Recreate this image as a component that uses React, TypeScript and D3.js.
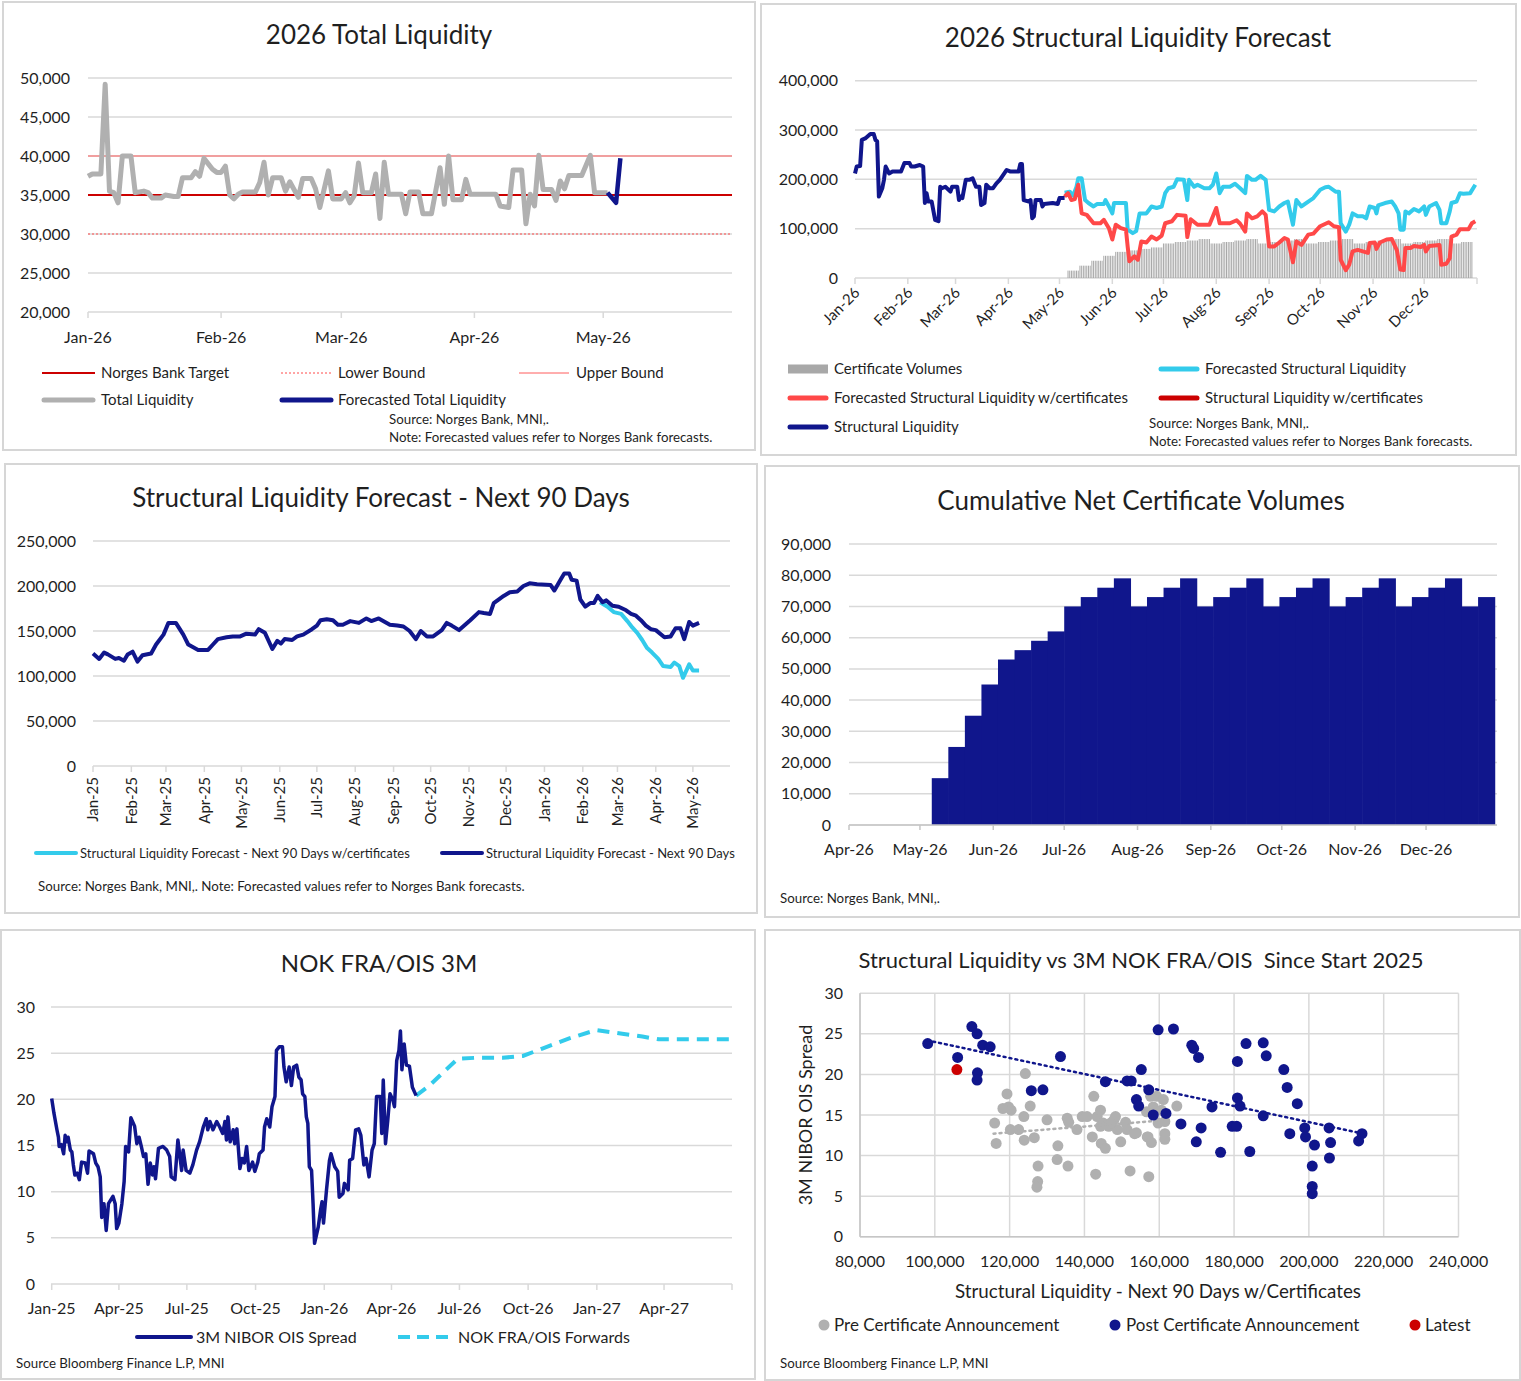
import React from 'react';
import * as d3 from 'd3';

type P = [number, number];

const FONT = 'Lato, "Open Sans", "DejaVu Sans", sans-serif';
const NAVY = '#10168c';
const GRAY = '#b0b0b0';
const BARGRAY = '#a8a8a8';
const CYAN = '#33cbeb';
const LRED = '#ff4848';
const DRED = '#cc0000';
const GRID = '#d9d9d9';
const AXIS = '#c6c6c6';
const TXT = '#1f1f1f';

const JAN25 = new Date(2025, 0, 1);
const JAN26 = new Date(2026, 0, 1);

// ---------- 2026 Total Liquidity (day offsets from 1 Jan 2026, NOK m)
const totalLiquidity: P[] = [
  [0, 37400], [1, 37700], [3, 37700], [4, 49200], [5, 35500], [6, 35300], [7, 34000], [8, 40000], [10, 40000], [11, 35300],
  [13, 35500], [14, 35300], [15, 34600], [17, 34600], [18, 35000], [20, 34800], [21, 34800], [22, 37200], [24, 37200], [25, 38000],
  [26, 37400], [27, 39700], [29, 38300], [30, 37900], [31, 37900], [32, 38700], [33, 35000], [34, 34500], [35, 35100], [36, 35400],
  [39, 35400], [40, 36600], [41, 39200], [42, 35000], [43, 37200], [45, 37200], [46, 35500], [47, 36700], [49, 34700], [50, 37100],
  [52, 37100], [53, 35800], [54, 33400], [56, 38100], [57, 34500], [59, 34500], [60, 35300], [61, 34000], [62, 34900], [63, 39100],
  [64, 35300], [66, 35300], [67, 37700], [68, 32000], [69, 39200], [70, 35100], [73, 35100], [74, 32600], [75, 35400], [77, 35400],
  [78, 32600], [80, 32600], [82, 38500], [83, 33800], [84, 40000], [85, 34400], [87, 34400], [88, 37000], [89, 35100], [95, 35100],
  [96, 33600], [98, 33400], [99, 38200], [101, 38200], [102, 31300], [103, 35100], [104, 33600], [105, 40100], [106, 35700], [108, 35700],
  [109, 34300], [110, 36800], [111, 35800], [112, 37500], [115, 37500], [117, 40100], [118, 35300], [121, 35300],
];
const forecastTotalLiquidity: P[] = [[121, 35300], [123, 34000], [124, 39700]];
const nbTarget = 35000;
const lowerBound = 30000;
const upperBound = 40000;
const tlTicks = [20000, 25000, 30000, 35000, 40000, 45000, 50000];

// ---------- 2026 Structural Liquidity Forecast (day offsets from 1 Jan 2026)
const structuralLiquidity: P[] = [
  [0, 212000], [1, 226000], [3, 227000], [4, 280000], [6, 283000], [9, 292000], [11, 292000], [12, 280000], [13, 277000], [14, 165000],
  [16, 182000], [17, 199000], [18, 226000], [20, 212000], [22, 216000], [27, 216000], [29, 233000], [32, 233000], [33, 226000], [35, 226000],
  [38, 229000], [40, 226000], [41, 152000], [42, 172000], [43, 155000], [45, 155000], [47, 118000], [49, 115000], [50, 185000], [51, 182000],
  [53, 185000], [56, 175000], [57, 185000], [60, 185000], [61, 158000], [62, 165000], [63, 162000], [65, 199000], [67, 199000], [69, 202000],
  [71, 185000], [73, 185000], [74, 148000], [76, 152000], [77, 189000], [79, 182000], [81, 182000], [83, 192000], [85, 199000], [89, 219000],
  [91, 216000], [96, 216000], [97, 231000], [98, 231000], [99, 158000], [102, 155000], [103, 158000], [104, 121000], [105, 125000], [106, 158000],
  [109, 158000], [110, 145000], [111, 150000], [116, 152000], [119, 150000], [120, 162000], [123, 162000],
];
const forecastStructural: P[] = [
  [123, 173000], [126, 175000], [128, 167000], [130, 185000], [131, 202000], [133, 202000], [135, 158000], [137, 152000], [140, 145000], [142, 150000],
  [146, 150000], [147, 158000], [149, 145000], [151, 131000], [152, 152000], [157, 152000], [159, 152000], [160, 98000], [163, 91000], [165, 95000],
  [167, 131000], [171, 131000], [174, 145000], [177, 142000], [180, 145000], [182, 172000], [184, 182000], [187, 185000], [189, 200000], [193, 199000],
  [195, 158000], [196, 199000], [199, 185000], [201, 189000], [205, 182000], [208, 182000], [210, 189000], [212, 212000], [214, 172000], [216, 185000],
  [220, 185000], [223, 191000], [226, 182000], [229, 172000], [230, 207000], [233, 199000], [235, 199000], [238, 207000], [241, 199000], [243, 138000],
  [246, 135000], [249, 145000], [252, 152000], [254, 155000], [257, 108000], [259, 158000], [262, 145000], [266, 155000], [269, 162000], [273, 179000],
  [276, 184000], [278, 185000], [282, 175000], [284, 175000], [285, 111000], [288, 94000], [290, 108000], [292, 131000], [295, 125000], [298, 125000],
  [300, 121000], [302, 145000], [305, 142000], [306, 131000], [307, 147000], [311, 152000], [315, 155000], [317, 145000], [319, 131000], [320, 98000],
  [322, 98000], [323, 135000], [325, 131000], [328, 140000], [331, 135000], [334, 145000], [335, 128000], [337, 145000], [341, 152000], [343, 138000],
  [344, 111000], [347, 111000], [349, 135000], [350, 152000], [353, 155000], [355, 172000], [357, 171000], [361, 172000], [364, 189000],
];
const forecastStructuralCert: P[] = [
  [123, 165000], [125, 172000], [127, 158000], [129, 160000], [131, 189000], [133, 131000], [136, 128000], [140, 111000], [144, 111000], [146, 118000],
  [149, 101000], [151, 78000], [153, 108000], [156, 101000], [159, 98000], [160, 64000], [161, 34000], [164, 44000], [166, 37000], [168, 74000],
  [171, 72000], [174, 84000], [177, 78000], [180, 86000], [182, 111000], [186, 115000], [189, 128000], [194, 126000], [195, 83000], [197, 119000],
  [201, 108000], [208, 108000], [212, 142000], [214, 111000], [220, 111000], [224, 117000], [226, 110000], [229, 94000], [230, 131000], [233, 121000],
  [236, 125000], [239, 135000], [241, 128000], [243, 64000], [246, 64000], [249, 72000], [252, 81000], [254, 78000], [257, 32000], [259, 74000],
  [262, 67000], [266, 88000], [269, 90000], [273, 105000], [278, 113000], [281, 105000], [284, 103000], [285, 37000], [288, 16000], [290, 27000],
  [292, 54000], [295, 57000], [301, 51000], [302, 71000], [305, 72000], [306, 59000], [308, 72000], [312, 78000], [315, 79000], [318, 56000],
  [320, 17000], [322, 16000], [323, 61000], [326, 61000], [328, 65000], [332, 63000], [334, 67000], [335, 54000], [337, 65000], [343, 67000],
  [344, 27000], [347, 29000], [349, 40000], [350, 84000], [353, 88000], [355, 99000], [360, 99000], [362, 111000], [364, 115000],
];
const slTicks = [0, 100000, 200000, 300000, 400000];

// ---------- Cumulative net certificate volumes (weekly, from 6 May 2026)
const certStart = new Date(2026, 4, 6);
const certWeekly = [
  15000, 25000, 35000, 45000, 53000, 56000, 59000, 62000, 70000, 73000, 76000, 79000,
  70000, 73000, 76000, 79000, 70000, 73000, 76000, 79000, 70000, 73000, 76000, 79000,
  70000, 73000, 76000, 79000, 70000, 73000, 76000, 79000, 70000, 73000,
];
const certTicks = [0, 10000, 20000, 30000, 40000, 50000, 60000, 70000, 80000, 90000];

// ---------- Structural liquidity next 90 days (day offsets from 1 Jan 2025)
const next90: P[] = [
  [0, 125000], [5, 119000], [9, 126000], [12, 124000], [18, 119000], [21, 120000], [25, 117000], [28, 124000], [32, 127000], [36, 116000],
  [40, 123000], [47, 125000], [51, 135000], [57, 146000], [61, 159000], [67, 159000], [73, 146000], [77, 135000], [85, 129000], [93, 129000],
  [97, 135000], [101, 141000], [108, 143000], [113, 144000], [119, 144000], [124, 147000], [131, 146000], [134, 152000], [139, 148000], [145, 130000],
  [149, 139000], [152, 136000], [155, 141000], [161, 140000], [165, 144000], [170, 146000], [177, 152000], [181, 156000], [184, 162000], [189, 163000],
  [194, 162000], [198, 157000], [202, 157000], [208, 161000], [215, 159000], [221, 164000], [225, 161000], [231, 164000], [240, 157000], [246, 156000],
  [251, 155000], [256, 150000], [261, 141000], [265, 150000], [270, 144000], [275, 144000], [282, 151000], [286, 159000], [290, 156000], [296, 151000],
  [305, 162000], [312, 171000], [316, 170000], [321, 169000], [324, 181000], [332, 189000], [337, 193000], [343, 194000], [348, 200000], [353, 203000],
  [359, 202000], [370, 201000], [373, 195000], [378, 207000], [381, 214000], [385, 214000], [387, 207000], [391, 206000], [394, 185000], [398, 177000],
  [402, 181000], [405, 181000], [408, 189000], [412, 182000], [415, 184000], [420, 178000], [425, 177000], [431, 173000], [435, 169000], [439, 167000],
  [443, 162000], [447, 156000], [451, 152000], [455, 151000], [462, 143000], [467, 144000], [471, 153000], [475, 153000], [478, 141000], [482, 160000],
  [485, 156000], [490, 159000],
];
const next90Cert: P[] = [
  [410, 182000], [416, 177000], [421, 171000], [427, 169000], [432, 161000], [436, 154000], [440, 148000], [444, 140000], [448, 131000], [452, 126000],
  [457, 119000], [461, 111000], [467, 110000], [470, 115000], [474, 111000], [477, 98000], [482, 113000], [485, 106000], [490, 106000],
];
const n90Ticks = [0, 50000, 100000, 150000, 200000, 250000];

// ---------- NOK FRA/OIS 3M (day offsets from 1 Jan 2025, bp)
const niborOis: P[] = [
  [0, 20.1], [3, 18.5], [7, 16.7], [9, 15.9], [10, 14.9], [13, 15.1], [16, 14.1], [18, 16.1], [20, 15.4], [22, 15.9],
  [25, 14.5], [27, 14.3], [29, 12.9], [31, 11.8], [34, 12.0], [37, 11.3], [40, 13.2], [45, 13.1], [48, 12.0], [50, 14.4],
  [56, 14.1], [59, 13.1], [62, 12.7], [65, 11.6], [67, 7.2], [70, 8.7], [73, 5.8], [76, 8.7], [82, 9.5], [85, 8.7],
  [87, 6.0], [90, 6.6], [94, 8.7], [97, 11.1], [99, 14.9], [103, 14.3], [106, 18.0], [111, 17.1], [114, 15.2], [117, 15.9],
  [120, 14.9], [123, 13.8], [126, 14.1], [129, 10.8], [132, 13.1], [135, 11.8], [137, 12.7], [139, 11.4], [143, 14.7], [149, 14.9],
  [154, 14.5], [158, 13.8], [160, 11.6], [165, 11.3], [169, 15.6], [174, 12.3], [176, 14.5], [180, 12.3], [185, 12.0], [189, 12.9],
  [194, 14.5], [198, 15.4], [203, 17.0], [207, 17.9], [209, 16.7], [212, 17.6], [216, 16.7], [221, 17.6], [225, 17.0], [229, 16.3],
  [232, 17.6], [234, 15.6], [236, 18.1], [239, 15.4], [243, 16.7], [245, 15.2], [248, 16.8], [252, 12.5], [255, 13.6], [258, 13.1],
  [261, 14.9], [264, 12.3], [269, 13.2], [272, 12.2], [276, 13.2], [278, 14.1], [283, 14.5], [285, 17.0], [288, 17.9], [292, 17.0],
  [295, 19.2], [299, 20.3], [301, 25.3], [305, 25.7], [309, 25.7], [311, 23.5], [314, 21.9], [318, 23.5], [321, 21.5], [324, 23.5],
  [328, 23.7], [331, 22.4], [334, 22.1], [336, 20.6], [339, 20.3], [341, 18.1], [343, 17.4], [345, 12.7], [348, 12.3], [350, 8.7],
  [352, 4.4], [357, 6.2], [360, 8.0], [362, 8.9], [364, 6.6], [368, 10.2], [372, 13.4], [374, 14.1], [379, 12.7], [383, 12.2],
  [385, 9.4], [390, 9.8], [392, 10.9], [397, 10.2], [399, 13.4], [403, 13.6], [407, 16.7], [411, 16.8], [414, 16.1], [418, 12.9],
  [421, 13.6], [425, 11.6], [429, 14.5], [432, 15.2], [435, 20.3], [440, 20.3], [442, 16.3], [444, 22.1], [447, 15.2], [450, 17.7],
  [453, 20.6], [457, 19.9], [459, 19.2], [462, 24.2], [465, 25.3], [467, 27.4], [469, 23.2], [472, 26.0], [475, 23.7], [479, 23.6],
  [483, 21.3], [488, 20.4],
];
const fraOisForwards: P[] = [
  [488, 20.4], [506, 21.5], [528, 23.2], [544, 24.4], [568, 24.5], [604, 24.5], [631, 24.7], [657, 25.5], [693, 26.6], [729, 27.5],
  [764, 27.1], [791, 26.8], [813, 26.5], [853, 26.5], [907, 26.5],
];
const oisTicks = [0, 5, 10, 15, 20, 25, 30];

// ---------- Scatter: structural liquidity vs 3M spread
const preAnnouncement: P[] = [
  [124200, 20.1], [119300, 17.6], [118200, 15.8], [119700, 16.0], [120400, 15.6], [116000, 14.0], [116400, 11.5], [123800, 14.8], [125500, 16.1], [120200, 13.2],
  [122400, 13.2], [123900, 11.9], [126600, 12.2], [130000, 14.4], [127600, 8.7], [127500, 6.8], [127300, 6.1], [132900, 11.2], [132700, 9.5], [135600, 8.7],
  [135400, 14.6], [135800, 14.1], [138000, 13.2], [139400, 14.8], [142500, 17.3], [142100, 12.3], [143000, 7.7], [140700, 14.8], [143400, 14.8], [144300, 15.6],
  [144500, 11.5], [145600, 10.9], [145000, 14.0], [146500, 13.6], [147900, 14.4], [148300, 14.8], [148800, 13.2], [149700, 11.7], [151000, 14.1], [152200, 8.1],
  [151400, 13.2], [153900, 12.8], [157200, 7.4], [156800, 12.3], [157700, 17.3], [144300, 13.6], [147000, 14.0], [159300, 17.3], [161100, 16.9], [158400, 16.0],
  [160600, 15.6], [164700, 16.1], [156600, 15.4], [161500, 14.2], [159700, 14.0], [153400, 12.7], [157000, 12.3], [157900, 11.6], [161500, 12.7], [161500, 12.0],
];
const postAnnouncement: P[] = [
  [98100, 23.8], [106100, 22.1], [109900, 25.9], [111300, 25.0], [112800, 23.6], [114800, 23.4], [111400, 20.2], [111300, 19.3], [125800, 18.0], [128900, 18.1],
  [133600, 22.2], [145600, 19.1], [151400, 19.2], [152500, 19.2], [155200, 20.6], [153900, 16.9], [154500, 16.1], [157200, 18.1], [158400, 15.0], [159700, 25.5],
  [163800, 25.6], [168700, 23.6], [169200, 23.2], [170500, 22.1], [161800, 15.2], [165800, 13.9], [174100, 16.0], [169900, 11.7], [171200, 13.4], [176400, 10.4],
  [179500, 13.6], [180700, 13.6], [180900, 21.6], [180900, 17.1], [181600, 16.1], [183200, 23.8], [184200, 10.5], [187800, 23.9], [188600, 22.3], [187800, 14.9],
  [193300, 20.6], [194200, 18.4], [194900, 12.7], [196900, 16.4], [198900, 13.4], [199100, 12.3], [201500, 11.3], [200900, 8.7], [200900, 6.2], [200900, 5.3],
  [205400, 13.4], [205800, 11.6], [205500, 9.7], [213300, 11.8], [214200, 12.7],
];
const latestPoint: P = [105900, 20.6];
const postTrend: P[] = [[98000, 24.2], [213500, 12.8]];
const preTrend: P[] = [[115700, 12.7], [160000, 14.3]];
const scXTicks = [80000, 100000, 120000, 140000, 160000, 180000, 200000, 220000, 240000];
const scYTicks = [0, 5, 10, 15, 20, 25, 30];

const fmtMonth = d3.timeFormat('%b-%y');
const fmtNum = d3.format(',');
const fmtInt = d3.format('d');

const TITLE = 26;
const SRC = 13.3;

function Frame({ x, y, w, h }: any) {
  return <rect x={x} y={y} width={w} height={h} fill="#fff" stroke="#d6d6d6" strokeWidth={2} />;
}

function YGrid({ y, ticks, x0, x1, lx, fmt = fmtNum }: any) {
  return (
    <g>
      {ticks.map((t: number) => (
        <g key={t}>
          <line x1={x0} x2={x1} y1={y(t)} y2={y(t)} stroke={GRID} strokeWidth={1.5} />
          <text x={lx} y={y(t)} dy="0.35em" textAnchor="end" fontSize={16} fill={TXT}>{fmt(t)}</text>
        </g>
      ))}
    </g>
  );
}

function LegendLine({ x1, x2, y, color, width = 4, dash, label, lx, size = 15 }: any) {
  return (
    <g>
      <line x1={x1} x2={x2} y1={y} y2={y} stroke={color} strokeWidth={width} strokeDasharray={dash} strokeLinecap={width > 2 && !dash ? 'round' : 'butt'} />
      <text x={lx} y={y} dy="0.35em" fontSize={size} fill={TXT}>{label}</text>
    </g>
  );
}

function timeLine(x: any, y: any, base: Date) {
  return d3.line<P>().x(d => x(d3.timeDay.offset(base, d[0]))).y(d => y(d[1]));
}

function TotalLiquidity() {
  const x = d3.scaleTime().domain([JAN26, new Date(2026, 4, 31)]).range([88, 732]);
  const y = d3.scaleLinear().domain([20000, 50000]).range([312, 78]);
  const line = timeLine(x, y, JAN26);
  const months = x.ticks(d3.timeMonth.every(1) as any);
  return (
    <g>
      <Frame x={3} y={2} w={752} h={448} />
      <text x={379} y={44} textAnchor="middle" fontSize={TITLE} fill={TXT}>2026 Total Liquidity</text>
      <YGrid y={y} ticks={tlTicks} x0={88} x1={732} lx={70} />
      {months.map(m => (
        <g key={+m}>
          <line x1={x(m)} x2={x(m)} y1={312} y2={318} stroke={GRID} strokeWidth={1.5} />
          <text x={x(m)} y={343} textAnchor="middle" fontSize={16} fill={TXT}>{fmtMonth(m)}</text>
        </g>
      ))}
      <line x1={88} x2={732} y1={y(upperBound)} y2={y(upperBound)} stroke="#ff5c5c" strokeWidth={1} />
      <line x1={88} x2={732} y1={y(lowerBound)} y2={y(lowerBound)} stroke="#ff4a4a" strokeWidth={1} strokeDasharray="2,2" />
      <line x1={88} x2={732} y1={y(nbTarget)} y2={y(nbTarget)} stroke={DRED} strokeWidth={2} />
      <path d={line(totalLiquidity) || ''} fill="none" stroke={GRAY} strokeWidth={5} strokeLinejoin="round" />
      <path d={line(forecastTotalLiquidity) || ''} fill="none" stroke={NAVY} strokeWidth={4.5} strokeLinejoin="round" />
      <LegendLine x1={42} x2={95} y={373} color={DRED} width={2} label="Norges Bank Target" lx={101} />
      <LegendLine x1={281} x2={331} y={373} color="#ff4a4a" width={1} dash="2,2" label="Lower Bound" lx={338} />
      <LegendLine x1={519} x2={569} y={373} color="#ff5c5c" width={1} label="Upper Bound" lx={576} />
      <LegendLine x1={44} x2={93} y={400} color={GRAY} width={5} label="Total Liquidity" lx={101} />
      <LegendLine x1={282} x2={331} y={400} color={NAVY} width={5} label="Forecasted Total Liquidity" lx={338} />
      <text x={389} y={424} fontSize={SRC} fill={TXT}>Source: Norges Bank, MNI,.</text>
      <text x={389} y={442} fontSize={SRC} fill={TXT}>Note: Forecasted values refer to Norges Bank forecasts.</text>
    </g>
  );
}

function StructuralForecast() {
  const x = d3.scaleTime().domain([JAN26, new Date(2027, 0, 1)]).range([855, 1477]);
  const y = d3.scaleLinear().domain([0, 400000]).range([278, 80.7]);
  const line = timeLine(x, y, JAN26);
  const months = x.ticks(d3.timeMonth.every(1) as any);
  const end = new Date(2026, 11, 31);
  const days = d3.timeDay.range(certStart, d3.timeDay.offset(end, 1));
  return (
    <g>
      <Frame x={761} y={4} w={755} h={451} />
      <text x={1138} y={47} textAnchor="middle" fontSize={TITLE} fill={TXT}>2026 Structural Liquidity Forecast</text>
      <YGrid y={y} ticks={slTicks} x0={855} x1={1477} lx={838} />
      {days.map((d, i) => {
        const v = certWeekly[Math.floor(i / 7)];
        if (v === undefined) return null;
        return <rect key={i} x={x(d) - 0.5} y={y(v)} width={1} height={y(0) - y(v)} fill={BARGRAY} />;
      })}
      {months.map((m, i) => (
        <g key={+m}>
          <line x1={x(m)} x2={x(m)} y1={278} y2={284} stroke={GRID} strokeWidth={1.5} />
          {i < 12 && (
            <text transform={`translate(${x(m) + 2},${290}) rotate(-45)`} dy="0.35em" textAnchor="end" fontSize={15} fill={TXT}>{fmtMonth(m)}</text>
          )}
        </g>
      ))}
      <path d={line(forecastStructural) || ''} fill="none" stroke={CYAN} strokeWidth={4} strokeLinejoin="round" />
      <path d={line(forecastStructuralCert) || ''} fill="none" stroke={LRED} strokeWidth={4} strokeLinejoin="round" />
      <path d={line(structuralLiquidity) || ''} fill="none" stroke={NAVY} strokeWidth={4} strokeLinejoin="round" />
      <rect x={788} y={364.5} width={40} height={9} fill={BARGRAY} />
      <text x={834} y={369} dy="0.35em" fontSize={15} fill={TXT}>Certificate Volumes</text>
      <LegendLine x1={1161} x2={1197} y={369} color={CYAN} width={5} label="Forecasted Structural Liquidity" lx={1205} />
      <LegendLine x1={790} x2={826} y={398} color={LRED} width={5} label="Forecasted Structural Liquidity w/certificates" lx={834} />
      <LegendLine x1={1161} x2={1197} y={398} color={DRED} width={5} label="Structural Liquidity w/certificates" lx={1205} />
      <LegendLine x1={790} x2={826} y={427} color={NAVY} width={5} label="Structural Liquidity" lx={834} />
      <text x={1149} y={428} fontSize={SRC} fill={TXT}>Source: Norges Bank, MNI,.</text>
      <text x={1149} y={446} fontSize={SRC} fill={TXT}>Note: Forecasted values refer to Norges Bank forecasts.</text>
    </g>
  );
}

function Next90() {
  const x = d3.scaleTime().domain([JAN25, new Date(2026, 4, 31)]).range([93, 730]);
  const y = d3.scaleLinear().domain([0, 250000]).range([766, 541]);
  const line = timeLine(x, y, JAN25);
  const months = x.ticks(d3.timeMonth.every(1) as any);
  return (
    <g>
      <Frame x={5} y={464} w={752} h={449} />
      <text x={381} y={507} textAnchor="middle" fontSize={TITLE} fill={TXT}>Structural Liquidity Forecast - Next 90 Days</text>
      <YGrid y={y} ticks={n90Ticks} x0={93} x1={730} lx={76} />
      {months.map(m => (
        <g key={+m}>
          <line x1={x(m)} x2={x(m)} y1={766} y2={772} stroke={GRID} strokeWidth={1.5} />
          <text transform={`translate(${x(m)},${777}) rotate(-90)`} dy="0.35em" textAnchor="end" fontSize={15} fill={TXT}>{fmtMonth(m)}</text>
        </g>
      ))}
      <path d={line(next90Cert) || ''} fill="none" stroke={CYAN} strokeWidth={4} strokeLinejoin="round" />
      <path d={line(next90) || ''} fill="none" stroke={NAVY} strokeWidth={4} strokeLinejoin="round" />
      <LegendLine x1={36} x2={76} y={853} color={CYAN} width={4} label="Structural Liquidity Forecast - Next 90 Days w/certificates" lx={80} size={13} />
      <LegendLine x1={442} x2={482} y={853} color={NAVY} width={4} label="Structural Liquidity Forecast - Next 90 Days" lx={486} size={13} />
      <text x={38} y={891} fontSize={SRC} fill={TXT}>Source: Norges Bank, MNI,. Note: Forecasted values refer to Norges Bank forecasts.</text>
    </g>
  );
}

function CertificateVolumes() {
  const x = d3.scaleTime().domain([new Date(2026, 3, 1), new Date(2026, 11, 31)]).range([849, 1497]);
  const y = d3.scaleLinear().domain([0, 90000]).range([825, 544]);
  const months = x.ticks(d3.timeMonth.every(1) as any);
  const domEnd = x.domain()[1];
  return (
    <g>
      <Frame x={765} y={466} w={754} h={451} />
      <text x={1141} y={510} textAnchor="middle" fontSize={TITLE} fill={TXT}>Cumulative Net Certificate Volumes</text>
      <YGrid y={y} ticks={certTicks} x0={849} x1={1497} lx={831} />
      {certWeekly.map((v, i) => {
        const s = d3.timeWeek.offset(certStart, i);
        let e = d3.timeWeek.offset(certStart, i + 1);
        if (e > domEnd) e = domEnd;
        if (s >= domEnd) return null;
        return <rect key={i} x={x(s)} y={y(v)} width={x(e) - x(s) + 0.6} height={y(0) - y(v)} fill={NAVY} />;
      })}
      <line x1={849} x2={1497} y1={825} y2={825} stroke={AXIS} strokeWidth={1.5} />
      {months.map(m => (
        <g key={+m}>
          <line x1={x(m)} x2={x(m)} y1={825} y2={830} stroke={AXIS} strokeWidth={1.5} />
          <text x={x(m)} y={855} textAnchor="middle" fontSize={16} fill={TXT}>{fmtMonth(m)}</text>
        </g>
      ))}
      <text x={780} y={903} fontSize={SRC} fill={TXT}>Source: Norges Bank, MNI,.</text>
    </g>
  );
}

function FraOis() {
  const x = d3.scaleTime().domain([JAN25, new Date(2027, 6, 1)]).range([51.7, 732]);
  const y = d3.scaleLinear().domain([0, 30]).range([1284, 1007]);
  const line = timeLine(x, y, JAN25);
  const quarters = x.ticks(d3.timeMonth.every(3) as any);
  return (
    <g>
      <Frame x={1} y={930} w={754} h={449} />
      <text x={379} y={972} textAnchor="middle" fontSize={24} fill={TXT}>NOK FRA/OIS 3M</text>
      <YGrid y={y} ticks={oisTicks} x0={51} x1={732} lx={35} fmt={fmtInt} />
      {quarters.map((m, i) => (
        <g key={+m}>
          <line x1={x(m)} x2={x(m)} y1={1284} y2={1290} stroke={GRID} strokeWidth={1.5} />
          {i < quarters.length - 1 && (
            <text x={x(m)} y={1314} textAnchor="middle" fontSize={16} fill={TXT}>{fmtMonth(m)}</text>
          )}
        </g>
      ))}
      <path d={line(fraOisForwards) || ''} fill="none" stroke={CYAN} strokeWidth={4} strokeDasharray="12,8" />
      <path d={line(niborOis) || ''} fill="none" stroke={NAVY} strokeWidth={3.5} strokeLinejoin="round" />
      <LegendLine x1={137} x2={191} y={1337} color={NAVY} width={4} label="3M NIBOR OIS Spread" lx={196} size={16} />
      <LegendLine x1={398} x2={452} y={1337} color={CYAN} width={4} dash="12,7" label="NOK FRA/OIS Forwards" lx={458} size={16} />
      <text x={16} y={1368} fontSize={SRC} fill={TXT}>Source Bloomberg Finance L.P, MNI</text>
    </g>
  );
}

function Scatter() {
  const x = d3.scaleLinear().domain([80000, 240000]).range([860, 1458.5]);
  const y = d3.scaleLinear().domain([0, 30]).range([1236.7, 993.3]);
  const tl = d3.line<P>().x(d => x(d[0])).y(d => y(d[1]));
  return (
    <g>
      <Frame x={765} y={930} w={755} h={450} />
      <text x={1141} y={968} textAnchor="middle" fontSize={22} fill={TXT}>{'Structural Liquidity vs 3M NOK FRA/OIS \u00a0Since Start 2025'}</text>
      {scYTicks.map(t => (
        <g key={t}>
          <line x1={860} x2={1458.5} y1={y(t)} y2={y(t)} stroke={GRID} strokeWidth={1.5} />
          <text x={843} y={y(t)} dy="0.35em" textAnchor="end" fontSize={16} fill={TXT}>{fmtInt(t)}</text>
        </g>
      ))}
      {scXTicks.map(t => (
        <g key={t}>
          <line x1={x(t)} x2={x(t)} y1={993.3} y2={1236.7} stroke={GRID} strokeWidth={1.5} />
          <text x={x(t)} y={1267} textAnchor="middle" fontSize={16} fill={TXT}>{fmtNum(t)}</text>
        </g>
      ))}
      <line x1={860} x2={860} y1={993.3} y2={1236.7} stroke={AXIS} strokeWidth={1.5} />
      <line x1={860} x2={1458.5} y1={1236.7} y2={1236.7} stroke={AXIS} strokeWidth={1.5} />
      {preAnnouncement.map((d, i) => <circle key={'a' + i} cx={x(d[0])} cy={y(d[1])} r={5.5} fill={GRAY} />)}
      <path d={tl(preTrend) || ''} fill="none" stroke={GRAY} strokeWidth={2.5} strokeDasharray="2,4" strokeLinecap="round" />
      {postAnnouncement.map((d, i) => <circle key={'b' + i} cx={x(d[0])} cy={y(d[1])} r={5.5} fill={NAVY} />)}
      <path d={tl(postTrend) || ''} fill="none" stroke={NAVY} strokeWidth={2.5} strokeDasharray="2,4" strokeLinecap="round" />
      <circle cx={x(latestPoint[0])} cy={y(latestPoint[1])} r={5.5} fill={DRED} />
      <text transform="translate(806,1115) rotate(-90)" dy="0.35em" textAnchor="middle" fontSize={18} fill={TXT}>3M NIBOR OIS Spread</text>
      <text x={1158} y={1298} textAnchor="middle" fontSize={18.8} fill={TXT}>Structural Liquidity - Next 90 Days w/Certificates</text>
      <circle cx={824} cy={1325} r={5.5} fill={GRAY} />
      <text x={834} y={1325} dy="0.35em" fontSize={17} fill={TXT}>Pre Certificate Announcement</text>
      <circle cx={1115} cy={1325} r={5.5} fill={NAVY} />
      <text x={1126} y={1325} dy="0.35em" fontSize={17} fill={TXT}>Post Certificate Announcement</text>
      <circle cx={1415} cy={1325} r={5.5} fill={DRED} />
      <text x={1425} y={1325} dy="0.35em" fontSize={17} fill={TXT}>Latest</text>
      <text x={780} y={1368} fontSize={SRC} fill={TXT}>Source Bloomberg Finance L.P, MNI</text>
    </g>
  );
}

export default function App() {
  return (
    <svg width={1521} height={1381} style={{ position: 'absolute', left: 0, top: 0, background: '#fff' }} fontFamily={FONT}>
      <rect width={1521} height={1381} fill="#fff" />
      <TotalLiquidity />
      <StructuralForecast />
      <Next90 />
      <CertificateVolumes />
      <FraOis />
      <Scatter />
    </svg>
  );
}
